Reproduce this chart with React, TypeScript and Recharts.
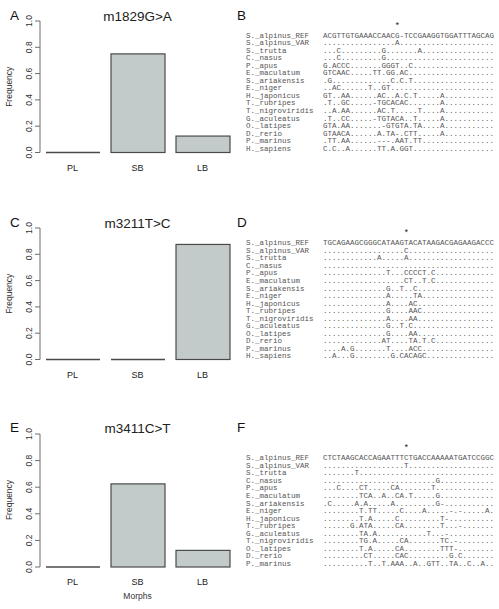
import React from "react";
import { Bar, BarChart, XAxis, YAxis } from "recharts";

const morphs = ["PL", "SB", "LB"];
const freqM1829 = [0, 0.75, 0.125];
const freqM3211 = [0, 0, 0.875];
const freqM3411 = [0, 0.625, 0.125];
const freqTicks = [0, 0.2, 0.4, 0.6, 0.8, 1.0];

const taxaBD = [
  "S._alpinus_REF",
  "S._alpinus_VAR",
  "S._trutta",
  "C._nasus",
  "P._apus",
  "E._maculatum",
  "S._ariakensis",
  "E._niger",
  "H._japonicus",
  "T._rubripes",
  "T._nigroviridis",
  "G._aculeatus",
  "O._latipes",
  "D._rerio",
  "P._marinus",
  "H._sapiens"
];

const taxaF = [
  "S._alpinus_REF",
  "S._alpinus_VAR",
  "S._trutta",
  "C._nasus",
  "P._apus",
  "E._maculatum",
  "S._ariakensis",
  "E._niger",
  "H._japonicus",
  "T._rubripes",
  "G._aculeatus",
  "T._nigroviridis",
  "O._latipes",
  "D._rerio",
  "P._marinus"
];

// m1829G>A, site at column 16
const seqM1829 = [
  "ACGTTGTGAAACCAACG-TCCGAAGGTGGATTTAGCAG",
  "................A",
  "...C.........G.......A",
  "...C.........G",
  "G.ACCC.......GGGT..C",
  "GTCAAC.....TT.GG.AC",
  ".G.............C.C.T",
  "..AC......T..GT",
  "GT..AA......AC..A.C.T.....A",
  ".T..GC.....-TGCACAC.......A",
  "..A.AA......AC.T.....T....A",
  ".T..CC.....-TGTACA..T.....A",
  "GTA.AA.......-GTGTA.TA....A",
  "GTAACA......A.TA-.CTT.....A",
  ".TT.AA......---.AAT.TT",
  "C.C..A......TT.A.GGT"
];

// m3211T>C, site at column 18
const seqM3211 = [
  "TGCAGAAGCGGGCATAAGTACATAAGACGAGAAGACCC",
  "..................C",
  "............A.....A",
  "",
  "..............T...CCCCT.C",
  "..................CT..T.C",
  "..............G..T..C",
  "..............A.....TA",
  "..............A....AC",
  "..............G....AAC",
  "..............A....AA",
  "..............G..T.C",
  "..............G....AA",
  ".............AT....TA.T.C",
  "....A.G.......T....ACC",
  "..A...G........G.CACAGC"
];

// m3411C>T, site at column 18
const seqM3411 = [
  "CTCTAAGCACCAGAATTTCTGACCAAAAATGATCCGGC",
  "..................T",
  ".......T",
  ".........................G",
  "...C....CT.....CA.......T",
  "........TCA..A..CA.T.....G",
  ".C.....A.A.....A.........G-",
  "........T.TT.....C....A.....-.-.....A",
  "........T.A.....C.........T-",
  "......G.ATA.....CA........T...-",
  "........TA.A...........T...-",
  "........TG.A.....CA.......TC.-",
  "........T.A.....CA........TTT-",
  ".........CT.....CAC.........G.C",
  "..........T..T.AAA..A..GTT..TA..C..A.."
];

const BAR_FILL = "#c3cbca";
const BAR_EDGE = "#4a4a4a";
const AXIS = "#6e6e6e";
const SANS = "'Liberation Sans', Arial, Helvetica, sans-serif";
const MONO = "'Liberation Mono', 'DejaVu Sans Mono', monospace";

const SEQ_LEN = 38;
const NAME_X = 246;
const SEQ_X = 323;
const CHAR_W = 4.5;
const ROW_H = 7.55;

function FramedBar(props: any) {
  const { x, y, width, height } = props;
  if (!height || height < 0.5) {
    return <line x1={x} x2={x + width} y1={y} y2={y} stroke={BAR_EDGE} strokeWidth={1.3} />;
  }
  return <rect x={x} y={y} width={width} height={height} fill={BAR_FILL} stroke={BAR_EDGE} strokeWidth={1.2} />;
}

function FreqTick({ x, y, payload }: any) {
  return (
    <text
      transform={`translate(${x - 1},${y}) rotate(-90)`}
      textAnchor="middle"
      fontSize={8.5}
      fill="#333"
      fontFamily={SANS}
    >
      {Number(payload.value).toFixed(1)}
    </text>
  );
}

function MorphTick({ x, y, payload }: any) {
  return (
    <text x={x} y={y} dy={10} textAnchor="middle" fontSize={9} fill="#222" fontFamily={SANS}>
      {payload.value}
    </text>
  );
}

function FreqPanel({ values, top, plotH }: { values: number[]; top: number; plotH: number }) {
  const data = morphs.map((m, i) => ({ morph: m, freq: values[i] }));
  const H = 200;
  const mTop = 21;
  const xAxisH = 30;
  return (
    <div style={{ position: "absolute", left: 0, top }}>
      <BarChart
        width={250}
        height={H}
        data={data}
        margin={{ top: mTop, right: 15, bottom: H - mTop - plotH - xAxisH, left: 0 }}
        barSize={54}
      >
        <XAxis dataKey="morph" axisLine={false} tickLine={false} height={xAxisH} tick={<MorphTick />} interval={0} />
        <YAxis
          width={40}
          domain={[0, 1]}
          ticks={freqTicks}
          interval={0}
          tick={<FreqTick />}
          tickSize={5}
          tickMargin={2}
          axisLine={{ stroke: AXIS }}
          tickLine={{ stroke: AXIS }}
        />
        <Bar dataKey="freq" isAnimationActive={false} shape={FramedBar} />
      </BarChart>
    </div>
  );
}

function Alignment({ taxa, seqs, site, refY }: { taxa: string[]; seqs: string[]; site: number; refY: number }) {
  const starX = SEQ_X + (site + 0.5) * CHAR_W;
  return (
    <g fontFamily={MONO} fontSize={7.5} fill="#555">
      <text x={starX} y={refY - 6.5} textAnchor="middle" fontSize={8.5} fill="#222">
        *
      </text>
      {taxa.map((name, i) => {
        const y = refY + 2.5 + i * ROW_H;
        const seq = (seqs[i] || "").padEnd(SEQ_LEN, ".");
        return (
          <g key={name}>
            <text x={NAME_X} y={y}>
              {name}
            </text>
            <text x={SEQ_X} y={y} textLength={SEQ_LEN * CHAR_W} lengthAdjust="spacingAndGlyphs">
              {seq}
            </text>
          </g>
        );
      })}
    </g>
  );
}

export default function App() {
  const panels = [
    { letter: "A", side: "B", title: "m1829G>A", values: freqM1829, top: 0, plotH: 131.5 },
    { letter: "C", side: "D", title: "m3211T>C", values: freqM3211, top: 207, plotH: 131.5 },
    { letter: "E", side: "F", title: "m3411C>T", values: freqM3411, top: 412.5, plotH: 133 }
  ];
  return (
    <div style={{ position: "absolute", left: 0, top: 0, width: 499, height: 609, background: "#fff", fontFamily: SANS }}>
      {panels.map((p) => (
        <FreqPanel key={p.letter} values={p.values} top={p.top} plotH={p.plotH} />
      ))}
      <svg width={499} height={609} style={{ position: "absolute", left: 0, top: 0, pointerEvents: "none" }}>
        {panels.map((p) => {
          const plotTop = p.top + 21;
          return (
            <g key={p.letter} fontFamily={SANS}>
              <text x={10} y={plotTop - 1.5} fontSize={13.5} fill="#111">
                {p.letter}
              </text>
              <text x={237} y={plotTop - 1.5} fontSize={13.5} fill="#111">
                {p.side}
              </text>
              <text x={137.5} y={plotTop - 0.5} fontSize={13.5} fill="#222" textAnchor="middle">
                {p.title}
              </text>
              <text
                transform={`translate(12,${plotTop + p.plotH / 2}) rotate(-90)`}
                textAnchor="middle"
                fontSize={8.5}
                fill="#333"
              >
                Frequency
              </text>
            </g>
          );
        })}
        <text x={137.5} y={598.5} textAnchor="middle" fontSize={8.5} fill="#333" fontFamily={SANS}>
          Morphs
        </text>
        <Alignment taxa={taxaBD} seqs={seqM1829} site={16} refY={35} />
        <Alignment taxa={taxaBD} seqs={seqM3211} site={18} refY={242.7} />
        <Alignment taxa={taxaF} seqs={seqM3411} site={18} refY={457.7} />
      </svg>
    </div>
  );
}
